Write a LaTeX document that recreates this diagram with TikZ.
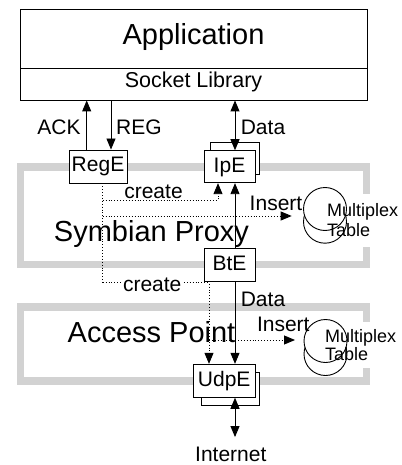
\documentclass[tikz,border=0pt]{standalone}
\usepackage{fontspec}
\setmainfont{Liberation Sans}
\usetikzlibrary{arrows.meta}
\pgfdeclarelayer{bg}\pgfdeclarelayer{mid}\pgfsetlayers{bg,mid,main}
\begin{document}
\begin{tikzpicture}[x=1pt,y=-1pt,
  lw/.style={line width=0.9pt},
  box/.style={draw, lw, fill=white, inner sep=0pt, font=\fontsize{21}{24}\selectfont, text height=15.3pt, text depth=4.4pt},
  lbl/.style={anchor=base, inner sep=0pt, font=\fontsize{21}{24}\selectfont},
  big/.style={anchor=base, inner sep=0pt, font=\fontsize{29}{32}\selectfont},
  frame/.style={draw=gray!35, line width=7.5pt, inner sep=0pt},
  tip/.style={-{Triangle[length=11pt,width=9pt]}},
  dtip/.style={{Triangle[length=11pt,width=9pt]}-{Triangle[length=11pt,width=9pt]}},
  dots/.style={lw, dotted},
  disc/.style={circle, draw, lw, fill=white, minimum size=43pt, inner sep=0pt},
  mtext/.style={align=left, font=\fontsize{18}{20}\selectfont, inner xsep=2pt}
]
\useasboundingbox (0,0) rectangle (401,465);

% gray frames
\begin{pgfonlayer}{bg}
\node[frame, minimum width=346pt, minimum height=97.4pt] (sp) at (193.4,215.8) {};
\node[frame, minimum width=346pt, minimum height=73.6pt] (ap) at (193.4,344) {};
\end{pgfonlayer}

% application
\node[draw, lw, inner sep=0pt, minimum width=347pt, minimum height=58.5pt,
      font=\fontsize{29}{32}\selectfont, text height=21pt, text depth=10pt] (app) at (193.5,38.75) {Application};
\node[draw, lw, inner sep=0pt, minimum width=347pt, minimum height=32pt,
      font=\fontsize{21.5}{24}\selectfont, text height=15pt, text depth=8.4pt] (sock) at (193.5,84) {Socket Library};

% boxes
\node[box, minimum width=58pt, minimum height=33pt] (rege) at (98,166.5) {RegE};
\node[box, minimum width=49pt, minimum height=32pt] (ipeb) at (234.5,158) {};
\node[box, minimum width=51pt, minimum height=32pt] (ipe) at (229.5,166.7) {IpE};
\node[box, minimum width=51pt, minimum height=33.4pt] (bte) at (229.5,265) {BtE};
\node[box, minimum width=57.6pt, minimum height=32.3pt] (udpeb) at (230.5,388.8) {};
\node[box, minimum width=61.7pt, minimum height=33pt] (udpe) at (224.2,380.8) {UdpE};

% multiplex tables
\begin{pgfonlayer}{mid}
\node[disc] (mb1) at (325,221.7) {};
\node[disc] (mf1) at (325,209) {};
\node[disc] (mb2) at (325.5,354) {};
\node[disc] (mf2) at (325.5,341) {};
\end{pgfonlayer}
\node[mtext, anchor=west, inner ysep=10pt] (mt1) at (325,220.5) {Multiplex\\Table};
\node[mtext, anchor=west, inner ysep=7pt, font=\fontsize{18}{18.4}\selectfont] (mt2) at (323,345) {Multiplex\\Table};
\begin{pgfonlayer}{bg}
\fill[white] (mt1.south west) rectangle (mt1.north east);
\fill[white] (mt2.south west) rectangle (mt2.north east);
\end{pgfonlayer}

% internet
\node[anchor=base, inner xsep=0pt, inner ysep=10pt, font=\fontsize{21}{24}\selectfont] (inet) at (230.8,461.7) {Internet};

% coordinates
\coordinate (xack) at (86.7,0);
\coordinate (xreg) at (111,0);
\coordinate (xd) at (235,0);
\coordinate (xb) at (218,0);
\coordinate (c1) at (102.7,200);
\coordinate (c3) at (102.7,216);
\coordinate (c2) at (102.7,282.7);
\coordinate (c4) at (209,340);
\coordinate (ins1) at (291.7,216);
\coordinate (ins2) at (295,340);

% solid connectors
\draw[lw,tip] (rege.north -| xack) -- (sock.south -| xack);
\draw[lw,tip] (sock.south -| xreg) -- (rege.north -| xreg);
\draw[lw,dtip] (sock.south -| xd) -- (ipe.north -| xd);
\draw[lw,tip] (bte.north -| xd) -- (ipe.south -| xd);
\draw[lw,tip] (bte.south -| xd) -- (udpe.north -| xd);
\draw[lw,dtip] (udpe.south -| xd) -- (inet.north -| xd);

% dotted connectors
\draw[dots] (rege.south -| c1) -- (c2);
\draw[dots,tip] (c1) -| (ipe.south -| xb);
\draw[dots,tip] (c3) -- (ins1);
\draw[dots,tip] (c2) -| (udpe.north -| c4);
\draw[dots,tip] (c4) -- (ins2);

% labels
\node[lbl] (lack) at (59,135) {ACK};
\node[lbl] (lreg) at (139,135) {REG};
\node[lbl] (ldata1) at (263,135) {Data};
\node[lbl] (lcreate1) at (153.5,198.3) {create};
\node[lbl, fill=white, inner xsep=1pt] (lcreate2) at (152.2,291.5) {create};
\node[lbl] (lins1) at (276,210.7) {Insert};
\node[lbl] (lins2) at (283.3,331.7) {Insert};
\node[lbl] (ldata2) at (263,306) {Data};
\node[big] (lsp) at (151.5,241.7) {Symbian Proxy};
\node[big] (lap) at (151.5,342.7) {Access Point};
\end{tikzpicture}
\end{document}
